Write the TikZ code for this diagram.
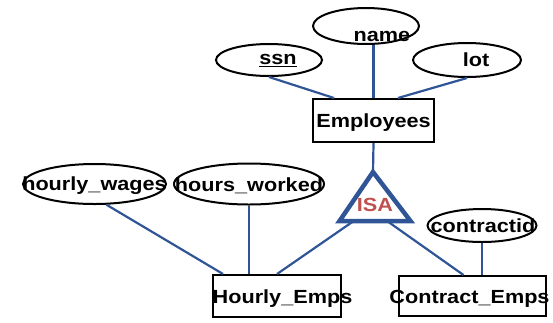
\documentclass[tikz,border=0pt]{standalone}
\usepackage{fontspec}
\setmainfont{Liberation Sans}[FakeStretch=1.14]
\usetikzlibrary{shapes.geometric, calc}
\definecolor{erblue}{HTML}{2F5597}
\definecolor{erred}{HTML}{C0504D}

\begin{document}
\begin{tikzpicture}[
    x=1pt, y=-1pt,
    txt/.style={
      font=\fontsize{19}{20}\selectfont\bfseries,
      inner sep=0pt, text height=13.5pt, text depth=0pt
    },
    attr/.style={ellipse, draw, line width=2pt, inner sep=0pt},
    entity/.style={rectangle, draw, line width=2pt, inner sep=0pt, txt},
    conn/.style={draw=erblue, line width=2.2pt},
    isaedge/.style={draw=erblue, line width=4.5pt, line join=miter}
  ]
  \useasboundingbox (0,0) rectangle (553,322);

  % Employees and its attributes
  \node[entity, minimum width=121pt, minimum height=43pt] (emp) at (373.5,120.5) {Employees};
  \node[attr, minimum width=106pt, minimum height=36pt] (name) at (366,26) {};
  \node[attr, minimum width=106pt, minimum height=32pt] (ssn)  at (269,60) {};
  \node[attr, minimum width=108pt, minimum height=34pt] (lot)  at (467,60) {};
  \node[txt] (namet) at ($(name)+(16,9)$)  {name};
  \node[txt] (ssnt)  at ($(ssn)+(9,-2)$)   {\underline{ssn}};
  \node[txt] (lott)  at ($(lot)+(9,0)$)    {lot};

  \draw[conn] (ssn.south) -- ([xshift=22pt]emp.north west);
  \draw[conn] (emp.north |- name.south) -- (emp.north);
  \draw[conn] (lot.south) -- ([xshift=-37pt]emp.north east);

  % ISA triangle
  \coordinate (isatop) at (373,172);
  \coordinate (isal)   at (339.5,221);
  \coordinate (isar)   at (410.5,221);
  \draw[isaedge] (isatop) -- (isal) -- (isar) -- cycle;
  \node[txt, text=erred] (isa) at (375,205) {ISA};
  \draw[conn] (emp.south) -- (isatop);

  % Subclasses
  \node[entity, minimum width=128pt, minimum height=42pt] (he) at (277,296) {};
  \node[entity, minimum width=147pt, minimum height=40pt] (ce) at (472.5,296) {};
  \node[txt] (het) at ($(he)+(5.5,1)$) {Hourly\_Emps};
  \node[txt] (cet) at ($(ce)+(-3,1)$)  {Contract\_Emps};

  \node[attr, minimum width=143pt, minimum height=40pt] (hw)   at (94.5,184) {};
  \node[attr, minimum width=150pt, minimum height=41pt] (hk)   at (249,184)  {};
  \node[attr, minimum width=109pt, minimum height=33pt] (ctid) at (482,225.5) {};
  \node[txt] (hwt)   at ($(hw)+(0,0)$)   {hourly\_wages};
  \node[txt] (hkt)   at ($(hk)+(0,1)$)   {hours\_worked};
  \node[txt] (ctidt) at ($(ctid)+(1,0)$) {contractid};

  \draw[conn] (hw.-60) -- ([xshift=11pt]he.north west);
  \draw[conn] (hk.south) -- (hk.south |- he.north);
  \draw[conn] ($(isal)!0.2!(isar)$) -- (he.north);
  \draw[conn] ($(isal)!0.67!(isar)$) -- ([xshift=-9pt]ce.north);
  \draw[conn] (ctid.south) -- (ctid.south |- ce.north);

\end{tikzpicture}
\end{document}
